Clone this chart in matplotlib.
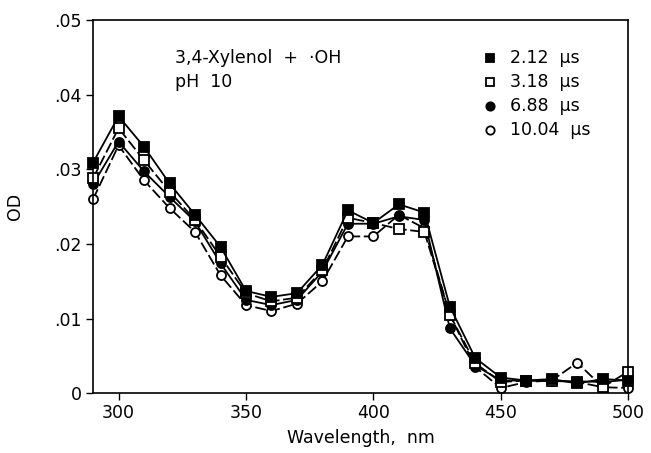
import matplotlib
matplotlib.use('Agg')
import matplotlib.pyplot as plt
import matplotlib.ticker as ticker

wavelength = [290, 300, 310, 320, 330, 340, 350, 360, 370, 380, 390,
              400, 410, 420, 430, 440, 450, 460, 470, 480, 490, 500]

od_212 = [0.0309, 0.0371, 0.0330, 0.0281, 0.0239, 0.0196, 0.0137, 0.0129, 0.0134, 0.0172, 0.0245,
          0.0228, 0.0253, 0.0242, 0.0116, 0.0047, 0.0021, 0.0017, 0.0019, 0.0013, 0.0019, 0.0017]
od_318 = [0.0288, 0.0355, 0.0312, 0.0270, 0.0232, 0.0183, 0.0134, 0.0123, 0.0128, 0.0165, 0.0235,
          0.0228, 0.0220, 0.0216, 0.0105, 0.0040, 0.0015, 0.0017, 0.0017, 0.0015, 0.0008, 0.0029]
od_688 = [0.0280, 0.0337, 0.0297, 0.0263, 0.0230, 0.0174, 0.0125, 0.0118, 0.0125, 0.0163, 0.0227,
          0.0227, 0.0237, 0.0232, 0.0087, 0.0037, 0.0017, 0.0017, 0.0016, 0.0016, 0.0015, 0.0018]
od_1004 = [0.0260, 0.0332, 0.0285, 0.0248, 0.0216, 0.0158, 0.0118, 0.0110, 0.0120, 0.0150, 0.0210,
           0.0210, 0.0239, 0.0221, 0.0105, 0.0035, 0.0007, 0.0015, 0.0017, 0.0041, 0.0008, 0.0007]

labels = ['2.12  \u03bcs', '3.18  \u03bcs', '6.88  \u03bcs', '10.04  \u03bcs']
x_ticks = [300, 350, 400, 450, 500]
y_ticks = [0, 0.01, 0.02, 0.03, 0.04, 0.05]
y_tick_labels = ['0', '.01', '.02', '.03', '.04', '.05']

plt.rcParams['font.family'] = ['DejaVu Sans']
plt.rcParams['font.size'] = 12

W, H = 651, 453


def px(x, y):
    # pixel position (from top-left) -> figure fraction
    return x / W, (H - y) / H


def main():
    fig = plt.figure(figsize=(W / 100, H / 100), dpi=100)
    ax = fig.add_axes([0.143, 0.132, 0.822, 0.824])

    series = [
        (od_212, 's', 'black', '-'),
        (od_318, 's', 'white', (0, (6, 2))),
        (od_688, 'o', 'black', '-'),
        (od_1004, 'o', 'white', (0, (6, 2))),
    ]
    # draw later times first so the 2.12 us curve sits on top
    for od, marker, face, ls in reversed(series):
        ax.plot(wavelength, od, color='black', linestyle=ls, linewidth=1.3,
                marker=marker, markersize=6.5, markerfacecolor=face,
                markeredgecolor='black', markeredgewidth=1.3, clip_on=False)

    ax.set_xlim(290, 500)
    ax.set_ylim(0, 0.05)
    ax.set_xticks(x_ticks)
    ax.set_yticks(y_ticks)
    ax.yaxis.set_major_formatter(ticker.FixedFormatter(y_tick_labels))
    ax.tick_params(direction='out', length=5, width=1, labelsize=12.5, pad=3)
    for s in ax.spines.values():
        s.set_linewidth(1.2)

    ax.set_xlabel('Wavelength,  nm', fontsize=12.5, labelpad=5)
    ax.set_ylabel('OD', fontsize=12.5, labelpad=22)

    fig.text(*px(175, 58), '3,4-Xylenol  +  \u00b7OH', fontsize=12.5, va='center', ha='left')
    fig.text(*px(175, 82), 'pH  10', fontsize=12.5, va='center', ha='left')

    # legend drawn by hand at the reference's pixel positions
    rows_y = [58, 82, 106, 130]
    for (od, marker, face, ls), lab, yy in zip(series, labels, rows_y):
        mx, my = px(490, yy)
        fig.lines.append(plt.Line2D([mx], [my], transform=fig.transFigure,
                                    marker=marker, markersize=6, markerfacecolor=face,
                                    markeredgecolor='black', markeredgewidth=1.3, linestyle='none'))
        fig.text(*px(510, yy), lab, fontsize=12.5, va='center', ha='left')

    fig.savefig('out.png', dpi=100)


if __name__ == '__main__':
    main()
